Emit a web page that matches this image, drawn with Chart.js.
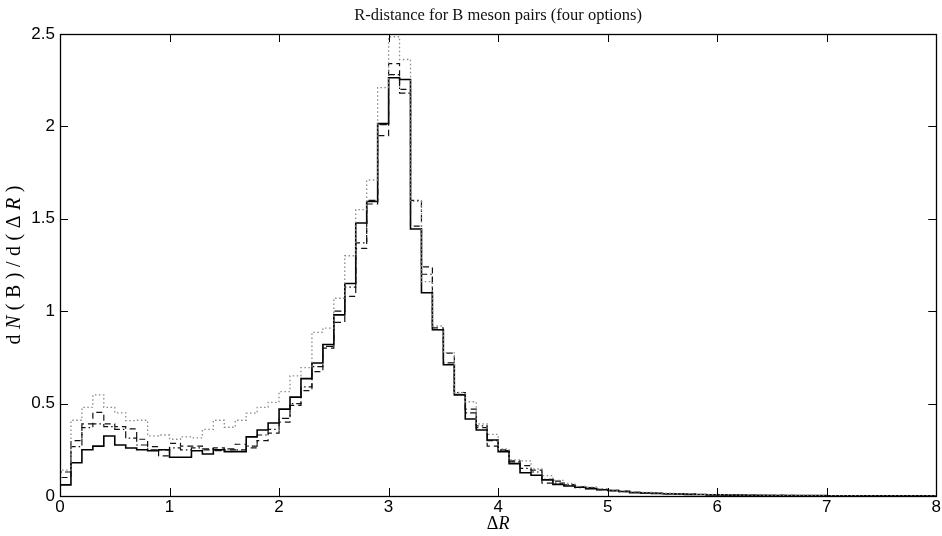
<!DOCTYPE html>
<html>
<head>
<meta charset="utf-8">
<script src="https://cdn.jsdelivr.net/npm/chart.js@4.4.1/dist/chart.umd.min.js"></script>
<style>
  html, body { margin: 0; padding: 0; background: #fff; }
  #c { display: block; }
</style>
</head>
<body>
<canvas id="c" width="942" height="536"></canvas>
<script>
// ---- data (bin left edges, width 0.1) ----
const binLeft = [0,0.1,0.2,0.3,0.4,0.5,0.6,0.7,0.8,0.9,1,1.1,1.2,1.3,1.4,1.5,1.6,1.7,1.8,1.9,
  2,2.1,2.2,2.3,2.4,2.5,2.6,2.7,2.8,2.9,3,3.1,3.2,3.3,3.4,3.5,3.6,3.7,3.8,3.9,
  4,4.1,4.2,4.3,4.4,4.5,4.6,4.7,4.8,4.9,5,5.1,5.2,5.3,5.4,5.5,5.6,5.7,5.8,5.9,
  6,6.1,6.2,6.3,6.4,6.5,6.6,6.7,6.8,6.9,7,7.1,7.2,7.3,7.4,7.5,7.6,7.7,7.8,7.9];
const binEnd = 8;

const solidVals = [0.06,0.18,0.25,0.27,0.325,0.276,0.26,0.25,0.245,0.25,
  0.21,0.21,0.245,0.227,0.25,0.24,0.24,0.32,0.357,0.395,
  0.47,0.535,0.635,0.72,0.82,0.98,1.15,1.477,1.594,2.015,
  2.263,2.254,1.445,1.10,0.90,0.71,0.547,0.417,0.357,0.303,
  0.24,0.175,0.126,0.112,0.087,0.063,0.054,0.047,0.04,0.034,
  0.03,0.024,0.018,0.016,0.014,0.012,0.011,0.009,0.008,0.006,
  0.006,0.005,0.004,0.004,0.003,0.003,0.002,0.002,0.002,0.002,
  0.001,0.001,0.001,0.001,0.001,0.001,0.001,0.0005,0.0005,0.0005];

const dashedVals = [0.10,0.30,0.39,0.453,0.39,0.375,0.363,0.307,0.267,0.217,
  0.285,0.27,0.27,0.25,0.26,0.25,0.28,0.26,0.30,0.34,
  0.40,0.49,0.57,0.673,0.80,0.94,1.08,1.34,1.58,1.95,
  2.34,2.20,1.46,1.24,0.91,0.773,0.55,0.47,0.37,0.27,
  0.25,0.19,0.164,0.14,0.07,0.08,0.06,0.05,0.045,0.036,
  0.03,0.026,0.02,0.017,0.015,0.013,0.011,0.01,0.008,0.007,
  0.006,0.005,0.005,0.004,0.003,0.003,0.003,0.002,0.002,0.002,
  0.002,0.001,0.001,0.001,0.001,0.001,0.001,0.001,0.0005,0.0005];

const dashDotVals = [0.13,0.267,0.37,0.39,0.375,0.36,0.313,0.276,0.25,0.25,
  0.26,0.25,0.26,0.255,0.245,0.255,0.25,0.27,0.33,0.36,
  0.42,0.50,0.59,0.70,0.81,1.0,1.13,1.37,1.60,2.01,
  2.28,2.18,1.60,1.20,0.90,0.72,0.56,0.45,0.38,0.30,
  0.245,0.185,0.15,0.13,0.09,0.07,0.06,0.045,0.04,0.034,
  0.028,0.024,0.019,0.016,0.014,0.012,0.01,0.009,0.008,0.007,
  0.006,0.005,0.004,0.004,0.003,0.003,0.002,0.002,0.002,0.002,
  0.001,0.001,0.001,0.001,0.001,0.001,0.001,0.0005,0.0005,0.0005];

const dottedVals = [0.14,0.41,0.48,0.547,0.48,0.45,0.408,0.41,0.325,0.33,
  0.307,0.32,0.315,0.36,0.41,0.372,0.41,0.448,0.48,0.507,
  0.565,0.65,0.695,0.885,0.908,1.07,1.30,1.55,1.71,2.21,
  2.485,2.362,1.594,1.16,0.92,0.775,0.56,0.51,0.39,0.334,
  0.255,0.195,0.19,0.146,0.11,0.085,0.068,0.052,0.048,0.04,
  0.032,0.028,0.022,0.02,0.017,0.015,0.012,0.011,0.009,0.008,
  0.007,0.006,0.005,0.005,0.004,0.004,0.003,0.003,0.003,0.002,
  0.002,0.002,0.002,0.001,0.001,0.001,0.001,0.001,0.001,0.0005];

const xTicks = [0,1,2,3,4,5,6,7,8];
const yTicks = [0,0.5,1,1.5,2,2.5];
const yTickLabels = ['0','0.5','1','1.5','2','2.5'];
const titleText = 'R-distance for B meson pairs (four options)';

// build step-histogram points (value of each bin holds from its left edge to the next edge)
function histPoints(vals) {
  const pts = [{x: binLeft[0], y: 0}];
  binLeft.forEach((x, i) => pts.push({x: x, y: vals[i]}));
  pts.push({x: binEnd, y: vals[vals.length - 1]});
  return pts;
}

const serif = '"Liberation Serif", "DejaVu Serif", serif';

const frameAndLabels = {
  id: 'frameAndLabels',
  beforeDraw(chart) {
    const ctx = chart.ctx;
    ctx.save();
    ctx.fillStyle = '#fff';
    ctx.fillRect(0, 0, chart.width, chart.height);
    ctx.restore();
  },
  afterDraw(chart) {
    const ctx = chart.ctx;
    const a = chart.chartArea;
    const xs = chart.scales.x, ys = chart.scales.y;
    ctx.save();
    ctx.strokeStyle = '#000';
    ctx.lineWidth = 1;
    // ticks inward on all four sides
    ctx.beginPath();
    xTicks.forEach(v => {
      const px = Math.round(xs.getPixelForValue(v)) + 0.5;
      ctx.moveTo(px, a.bottom); ctx.lineTo(px, a.bottom - 8);
      ctx.moveTo(px, a.top); ctx.lineTo(px, a.top + 8);
    });
    yTicks.forEach(v => {
      const py = Math.round(ys.getPixelForValue(v)) + 0.5;
      ctx.moveTo(a.left, py); ctx.lineTo(a.left + 8, py);
      ctx.moveTo(a.right, py); ctx.lineTo(a.right - 8, py);
    });
    ctx.stroke();
    // frame
    ctx.lineWidth = 1.3;
    ctx.strokeRect(Math.round(a.left) + 0.5, Math.round(a.top) + 0.5,
                   Math.round(a.right - a.left), Math.round(a.bottom - a.top));

    const cx = (a.left + a.right) / 2;
    ctx.fillStyle = '#111';
    ctx.textBaseline = 'alphabetic';
    // chart title centred over the plot area
    ctx.font = '16.5px ' + serif;
    ctx.textAlign = 'center';
    ctx.fillText(titleText, cx, 20);

    // x-axis title: ΔR (R italic)
    ctx.fillStyle = '#000';
    ctx.textAlign = 'left';
    const upX = '18px ' + serif, itX = 'italic 18px ' + serif;
    ctx.font = upX; const wD = ctx.measureText('Δ').width;
    ctx.font = itX; const wR = ctx.measureText('R').width;
    let x0 = cx - (wD + wR) / 2;
    ctx.font = upX; ctx.fillText('Δ', x0, 529);
    ctx.font = itX; ctx.fillText('R', x0 + wD, 529);

    // y-axis title: dN(B)/d(ΔR), rotated, N and R italic
    const up = '20px ' + serif, it = 'italic 20px ' + serif;
    const segs = [['d', up], ['N', it], ['(', up], ['B', up], [')', up], ['/', up],
                  ['d', up], ['(', up], ['Δ', up], ['R', it], [')', up]];
    const gap = 5.5;
    let total = 0;
    const widths = segs.map(s => { ctx.font = s[1]; const w = ctx.measureText(s[0]).width; total += w; return w; });
    total += gap * (segs.length - 1);
    ctx.translate(20, (a.top + a.bottom) / 2);
    ctx.rotate(-Math.PI / 2);
    let p = -total / 2;
    segs.forEach((s, i) => {
      ctx.font = s[1];
      ctx.fillText(s[0], p, 0);
      p += widths[i] + gap;
    });
    ctx.restore();
  }
};

const common = { borderColor: '#000', pointRadius: 0, fill: false, stepped: 'before', tension: 0 };

new Chart(document.getElementById('c'), {
  type: 'line',
  data: {
    datasets: [
      Object.assign({}, common, { label: 'dotted', data: histPoints(dottedVals), borderColor: '#8a8a8a', borderWidth: 1.3, borderDash: [1.5, 2.5] }),
      Object.assign({}, common, { label: 'dash-dot', data: histPoints(dashDotVals), borderColor: '#111', borderWidth: 1.2, borderDash: [7, 3, 1.5, 3] }),
      Object.assign({}, common, { label: 'dashed', data: histPoints(dashedVals), borderColor: '#111', borderWidth: 1.2, borderDash: [6, 4] }),
      Object.assign({}, common, { label: 'solid', data: histPoints(solidVals), borderColor: '#000', borderWidth: 1.6 })
    ]
  },
  options: {
    responsive: false,
    animation: false,
    devicePixelRatio: 1,
    layout: { padding: { left: 0, right: 4, top: 34, bottom: 0 } },
    plugins: {
      legend: { display: false },
      tooltip: { enabled: false },
      title: { display: false }
    },
    scales: {
      x: {
        type: 'linear', min: 0, max: 8,
        afterFit(s) { s.height = 40; },
        afterBuildTicks(s) { s.ticks = xTicks.map(v => ({ value: v })); },
        grid: { display: false, drawTicks: false },
        border: { display: false },
        ticks: { color: '#000', padding: 1, maxRotation: 0, autoSkip: false,
                 font: { family: '"Liberation Sans", Arial, sans-serif', size: 17 } }
      },
      y: {
        type: 'linear', min: 0, max: 2.5,
        afterFit(s) { s.width = 60; },
        afterBuildTicks(s) { s.ticks = yTicks.map(v => ({ value: v })); },
        grid: { display: false, drawTicks: false },
        border: { display: false },
        ticks: { color: '#000', padding: 5, autoSkip: false,
                 callback: (v) => yTickLabels[yTicks.indexOf(v)] ?? String(v),
                 font: { family: '"Liberation Sans", Arial, sans-serif', size: 17 } }
      }
    }
  },
  plugins: [frameAndLabels]
});
</script>
</body>
</html>
